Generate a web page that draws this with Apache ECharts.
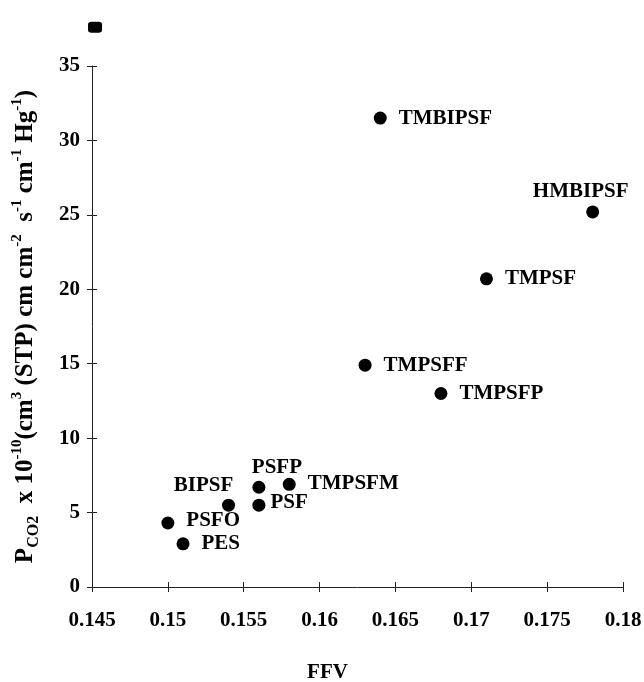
<!DOCTYPE html>
<html>
<head>
<meta charset="utf-8">
<script src="https://cdn.jsdelivr.net/npm/echarts@6/dist/echarts.min.js"></script>
<style>
  html, body { margin: 0; padding: 0; background: #fff; }
  #chart { width: 644px; height: 682px; }
</style>
</head>
<body>
<div id="chart"></div>
<script>
// CO2 permeability versus fractional free volume for a family of polysulfones
const polymers = ['PES', 'PSFO', 'BIPSF', 'PSF', 'PSFP', 'TMPSFM', 'TMPSFF', 'TMPSFP', 'TMBIPSF', 'TMPSF', 'HMBIPSF'];
const ffv      = [0.151, 0.150, 0.154, 0.156, 0.156, 0.158, 0.163, 0.168, 0.164, 0.171, 0.178];
const pco2     = [2.9, 4.3, 5.5, 5.5, 6.7, 6.9, 14.9, 13.0, 31.5, 20.7, 25.2];

// small filled block sitting above the top of the y axis
const cornerMark = [[0.1452, 37.6]];

const xTicks = [0.145, 0.15, 0.155, 0.16, 0.165, 0.17, 0.175, 0.18];
const yTicks = [0, 5, 10, 15, 20, 25, 30, 35];

const FONT = '"Liberation Serif", "Times New Roman", serif';

// where each polymer name sits relative to its dot
const labelPlacement = {
  PSFP:    { position: 'top',   distance: 3,  offset: [18, 0] },
  BIPSF:   { position: 'top',   distance: 3,  offset: [-25, 0] },
  HMBIPSF: { position: 'top',   distance: 3,  offset: [-12, 0] },
  PSF:     { position: 'right', distance: 5,  offset: [0, -3] },
  PSFO:    { position: 'right', distance: 12, offset: [0, -2] },
  TMPSFM:  { position: 'right', distance: 12, offset: [0, -1] }
};

const points = polymers.map((name, i) => {
  const p = labelPlacement[name] || { position: 'right', distance: 12, offset: [0, 0] };
  return {
    name: name,
    value: [ffv[i], pco2[i]],
    label: { show: true, formatter: name, position: p.position, distance: p.distance, offset: p.offset }
  };
});

const fmt = v => String(parseFloat(v.toFixed(3)));

const axisLine = { show: true, lineStyle: { color: '#222', width: 1 } };
const tickLabel = { fontFamily: FONT, fontWeight: 'bold', fontSize: 21, color: '#000' };

const chart = echarts.init(document.getElementById('chart'), null, { renderer: 'canvas' });
chart.setOption({
  animation: false,
  backgroundColor: '#fff',
  grid: { left: 92, right: 21, top: 66, bottom: 95, containLabel: false, outerBoundsMode: 'none' },
  xAxis: [
    {
      type: 'value', min: xTicks[0], max: xTicks[xTicks.length - 1], interval: 0.005,
      axisLine: axisLine,
      axisTick: { show: true, length: 5, lineStyle: { color: '#222' } },
      axisLabel: Object.assign({ margin: 23, formatter: fmt }, tickLabel),
      splitLine: { show: false },
      name: 'FFV', nameLocation: 'middle', nameGap: 75,
      nameTextStyle: { fontFamily: FONT, fontWeight: 'bold', fontSize: 21, color: '#000', padding: [0, 60, 0, 0] }
    },
    {
      // inner half of the crossing ticks
      type: 'value', min: xTicks[0], max: xTicks[xTicks.length - 1], interval: 0.005,
      position: 'bottom', axisLine: { show: false },
      axisTick: { show: true, inside: true, length: 5, lineStyle: { color: '#222' } },
      axisLabel: { show: false }, splitLine: { show: false }
    }
  ],
  yAxis: [
    {
      type: 'value', min: yTicks[0], max: yTicks[yTicks.length - 1], interval: 5,
      axisLine: axisLine,
      axisTick: { show: true, length: 5, lineStyle: { color: '#222' } },
      axisLabel: Object.assign({ margin: 12 }, tickLabel),
      splitLine: { show: false },
      name: '{b|P}{sub|CO2}{b|  x 10}{sup|-10}{b|(cm}{sup|3}{b| (STP) cm cm}{sup|-2}{b|  s}{sup|-1}{b| cm}{sup|-1}{b| Hg}{sup|-1}{b|)}',
      nameLocation: 'middle', nameRotate: 90, nameGap: 50,
      nameTextStyle: {
        color: '#000',
        rich: {
          b:   { fontFamily: FONT, fontWeight: 'bold', fontSize: 25, color: '#000', lineHeight: 32, verticalAlign: 'middle' },
          sup: { fontFamily: FONT, fontWeight: 'bold', fontSize: 15, color: '#000', lineHeight: 15, verticalAlign: 'top' },
          sub: { fontFamily: FONT, fontWeight: 'bold', fontSize: 16, color: '#000', lineHeight: 16, verticalAlign: 'bottom' }
        }
      }
    },
    {
      type: 'value', min: yTicks[0], max: yTicks[yTicks.length - 1], interval: 5,
      position: 'left', axisLine: { show: false },
      axisTick: { show: true, inside: true, length: 5, lineStyle: { color: '#222' } },
      axisLabel: { show: false }, splitLine: { show: false }
    }
  ],
  series: [
    {
      type: 'scatter',
      symbol: 'circle', symbolSize: 13,
      itemStyle: { color: '#000', opacity: 1 },
      label: { fontFamily: FONT, fontWeight: 'bold', fontSize: 21, color: '#000' },
      data: points
    },
    {
      type: 'scatter',
      symbol: 'roundRect', symbolSize: [14, 11],
      itemStyle: { color: '#000', opacity: 1 },
      clip: false,
      data: cornerMark
    }
  ]
});
</script>
</body>
</html>
